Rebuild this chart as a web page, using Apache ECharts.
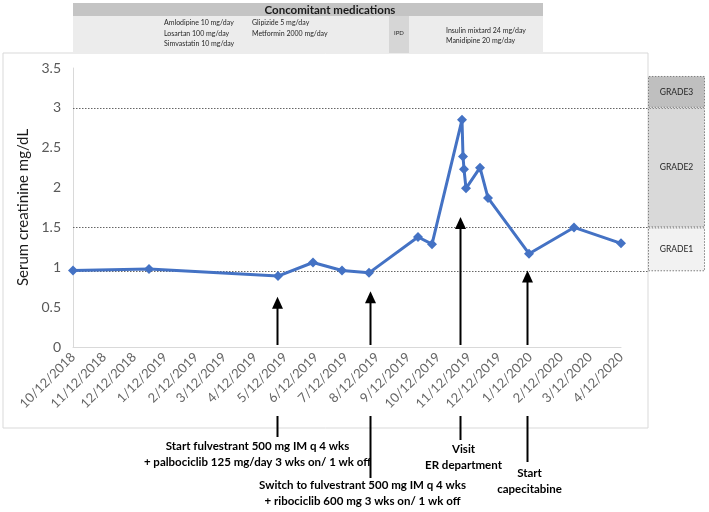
<!DOCTYPE html>
<html>
<head>
<meta charset="utf-8">
<script src="https://cdn.jsdelivr.net/npm/echarts@6.0.0/dist/echarts.min.js"></script>
<style>
  html, body { margin: 0; padding: 0; background: #fff; }
  #chart { width: 709px; height: 512px; }
</style>
</head>
<body>
<div id="chart"></div>
<script>
// creatinine measurements (date, mg/dL)
const sampleDates = [
  '2018-10-12', '2018-12-27', '2019-05-05', '2019-06-09', '2019-07-08', '2019-08-04',
  '2019-09-22', '2019-10-06', '2019-11-05', '2019-11-06', '2019-11-07', '2019-11-09',
  '2019-11-23', '2019-12-01', '2020-01-11', '2020-02-25', '2020-04-12'
];
const creatinine = [0.96, 0.98, 0.89, 1.06, 0.96, 0.93, 1.38, 1.29, 2.85, 2.39, 2.23, 1.99, 2.25, 1.87, 1.17, 1.5, 1.3];

const tickLabels = [
  '10/12/2018', '11/12/2018', '12/12/2018', '1/12/2019', '2/12/2019', '3/12/2019', '4/12/2019',
  '5/12/2019', '6/12/2019', '7/12/2019', '8/12/2019', '9/12/2019', '10/12/2019', '11/12/2019',
  '12/12/2019', '1/12/2020', '2/12/2020', '3/12/2020', '4/12/2020'
];

// toxicity grade limits
const gradeNames = ['GRADE1', 'GRADE2', 'GRADE3'];
const gradeBounds = [0.95, 1.5, 3, 3.4];
const gradeColors = ['#f2f2f2', '#d9d9d9', '#bfbfbf'];

// clinical events (arrow position, arrow tip level, caption)
const eventDates = ['2019-05-04', '2019-08-05', '2019-11-03', '2020-01-09'];
const eventTips = [0.63, 0.7, 1.63, 0.96];
const eventTexts = [
  ['Start fulvestrant 500 mg IM q 4 wks', '+ palbociclib 125 mg/day 3 wks on/ 1 wk off'],
  ['Switch to fulvestrant 500 mg IM q 4 wks', '+ ribociclib 600 mg 3 wks on/ 1 wk off'],
  ['Visit', 'ER department'],
  ['Start', 'capecitabine']
];

const toTime = s => {
  const p = s.split('-').map(Number);
  return Date.UTC(p[0], p[1] - 1, p[2]);
};
const labelTime = s => {
  const p = s.split('/').map(Number);
  return Date.UTC(p[2], p[0] - 1, p[1]);
};
const tickValues = tickLabels.map(labelTime);

const FONT = 'Lato, "Open Sans", sans-serif';
const chart = echarts.init(document.getElementById('chart'));

// header table (concomitant medications)
const medText = (x, y, t) => ({
  type: 'text', x, y, style: { text: t, fill: '#262626', font: '7px ' + FONT, textVerticalAlign: 'middle' }
});
const header = [
  { type: 'rect', shape: { x: 3, y: 53, width: 645, height: 375 }, style: { fill: 'none', stroke: '#d9d9d9', lineWidth: 1 }, z: -1 },
  { type: 'rect', shape: { x: 73, y: 3, width: 470, height: 13 }, style: { fill: '#c4c4c4' } },
  { type: 'text', x: 330, y: 10, style: { text: 'Concomitant medications', fill: '#1a1a1a', font: 'bold 11.5px ' + FONT, textAlign: 'center', textVerticalAlign: 'middle' } },
  { type: 'rect', shape: { x: 73, y: 16, width: 316, height: 37 }, style: { fill: '#ececec' } },
  { type: 'rect', shape: { x: 389, y: 16, width: 20, height: 37 }, style: { fill: '#d6d6d6' } },
  { type: 'rect', shape: { x: 409, y: 16, width: 134, height: 37 }, style: { fill: '#ececec' } },
  medText(164, 23, 'Amlodipine 10 mg/day'),
  medText(164, 33.5, 'Losartan 100 mg/day'),
  medText(164, 44, 'Simvastatin 10 mg/day'),
  medText(252, 23, 'Glipizide 5 mg/day'),
  medText(252, 33.5, 'Metformin 2000 mg/day'),
  { type: 'text', x: 399, y: 33, style: { text: 'IPD', fill: '#262626', font: '6px ' + FONT, textAlign: 'center', textVerticalAlign: 'middle' } },
  medText(446, 30.5, 'Insulin mixtard 24 mg/day'),
  medText(446, 41, 'Manidipine 20 mg/day')
];

const grades = gradeNames.map((name, i) => ({
  name,
  type: 'bar',
  xAxisIndex: 1,
  yAxisIndex: 1,
  stack: 'grade',
  barWidth: '100%',
  data: [+(gradeBounds[i + 1] - gradeBounds[i]).toFixed(2)],
  itemStyle: { color: gradeColors[i], borderColor: '#7f7f7f', borderWidth: 1, borderType: [1.5, 1.5] },
  label: { show: true, position: 'inside', formatter: name, color: '#262626', fontSize: 8.5, fontFamily: FONT },
  silent: true
}));
// transparent base so the stack starts at the lowest limit
grades.unshift({
  type: 'bar', xAxisIndex: 1, yAxisIndex: 1, stack: 'grade', barWidth: '100%',
  data: [gradeBounds[0]], itemStyle: { color: 'transparent' }, silent: true
});

chart.setOption({
  animation: false,
  grid: [
    { left: 73, right: 88, top: 68, bottom: 165 },
    { left: 648, right: 4, top: 68, bottom: 165 },
    { left: 73, right: 61, top: 68, bottom: 165 }
  ],
  xAxis: [
    {
      type: 'value',
      gridIndex: 0,
      min: tickValues[0],
      max: tickValues[tickValues.length - 1],
      splitLine: { show: false },
      axisLine: { lineStyle: { color: '#d9d9d9', width: 1 } },
      axisTick: { show: false },
      axisLabel: {
        customValues: tickValues,
        rotate: 45,
        margin: 8,
        color: '#666',
        fontSize: 13,
        fontFamily: FONT,
        formatter: v => tickLabels[tickValues.indexOf(v)] || ''
      }
    },
    { type: 'category', gridIndex: 1, data: ['grade'], show: false },
    { type: 'value', gridIndex: 2, min: 0, max: 1, show: false }
  ],
  yAxis: [
    {
      type: 'value',
      gridIndex: 0,
      min: 0,
      max: 3.5,
      interval: 0.5,
      splitLine: { show: false },
      axisLine: { show: true, lineStyle: { color: '#d9d9d9', width: 1 } },
      axisTick: { show: false },
      axisLabel: { color: '#595959', fontSize: 14, fontFamily: FONT, margin: 12 },
      name: 'Serum creatinine mg/dL',
      nameLocation: 'middle',
      nameRotate: 90,
      nameGap: 40,
      nameTextStyle: { color: '#1a1a1a', fontSize: 15, fontFamily: FONT }
    },
    { type: 'value', gridIndex: 1, min: 0, max: 3.5, show: false },
    { type: 'value', gridIndex: 2, min: 0, max: 3.5, show: false }
  ],
  series: [
    {
      type: 'line',
      xAxisIndex: 2,
      yAxisIndex: 2,
      data: [],
      silent: true,
      z: 1,
      markLine: {
        silent: true,
        symbol: 'none',
        label: { show: false },
        lineStyle: { color: '#666', type: [1.5, 1.5], width: 1 },
        data: gradeBounds.slice(0, 3).map(v => ({ yAxis: v }))
      }
    },
    ...grades,
    {
      name: 'Serum creatinine',
      type: 'line',
      xAxisIndex: 0,
      yAxisIndex: 0,
      z: 5,
      data: sampleDates.map((d, i) => [toTime(d), creatinine[i]]),
      symbol: 'diamond',
      symbolSize: 10,
      lineStyle: { color: '#4472c4', width: 3 },
      itemStyle: { color: '#4472c4' }
    }
  ],
  graphic: header
});

// event arrows placed through the axis scales
const arrows = [];
eventDates.forEach((d, i) => {
  const tip = chart.convertToPixel({ xAxisIndex: 0, yAxisIndex: 0 }, [toTime(d), eventTips[i]]);
  const x = Math.round(tip[0]) + 0.5;
  const y = tip[1];
  arrows.push({ type: 'line', shape: { x1: x, y1: y + 8, x2: x, y2: 345 }, style: { stroke: '#000', lineWidth: 2 }, z: 10 });
  arrows.push({ type: 'polygon', shape: { points: [[x, y], [x - 5.5, y + 12], [x + 5.5, y + 12]] }, style: { fill: '#000' }, z: 10 });
});
// lower leader lines and captions
const lowerEnds = [437, 478, 440, 462];
const captionX = [-20, -8, 3, 2];
const captionY = [446, 485, 449, 473];
eventDates.forEach((d, i) => {
  const x = Math.round(chart.convertToPixel({ xAxisIndex: 0, yAxisIndex: 0 }, [toTime(d), 0])[0]) + 0.5;
  arrows.push({ type: 'line', shape: { x1: x, y1: 416, x2: x, y2: lowerEnds[i] }, style: { stroke: '#000', lineWidth: 2 } });
  eventTexts[i].forEach((t, j) => {
    arrows.push({
      type: 'text', x: x + captionX[i], y: captionY[i] + j * 16,
      style: { text: t, fill: '#000', font: 'bold 11.5px ' + FONT, textAlign: 'center', textVerticalAlign: 'middle' }
    });
  });
});
chart.setOption({ graphic: header.concat(arrows) });
</script>
</body>
</html>
